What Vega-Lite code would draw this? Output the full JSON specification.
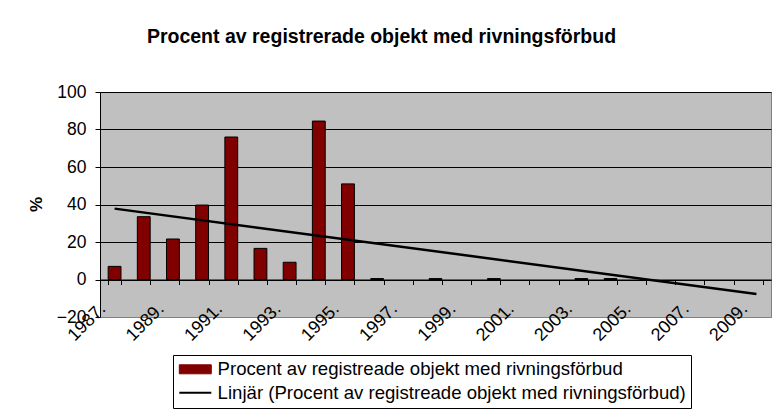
{
  "$schema": "https://vega.github.io/schema/vega-lite/v6.json",
  "autosize": "none",
  "width": 671,
  "height": 225,
  "padding": {"left": 100, "top": 92, "right": 2, "bottom": 98},
  "background": "white",
  "config": {
    "view": {"fill": "#C0C0C0", "stroke": "#808080", "strokeWidth": 1},
    "font": "Liberation Sans"
  },
  "title": {
    "text": "Procent av registrerade objekt med rivningsförbud",
    "font": "Liberation Sans",
    "fontSize": 19.5,
    "fontWeight": "bold",
    "color": "black",
    "anchor": "middle",
    "frame": "group",
    "baseline": "alphabetic",
    "dx": -54,
    "offset": 21
  },
  "datasets": {
    "bars": [
      {"year": "1987.", "value": 7, "series": "Procent av registreade objekt med rivningsförbud"},
      {"year": "1988.", "value": 33.5, "series": "Procent av registreade objekt med rivningsförbud"},
      {"year": "1989.", "value": 21.6, "series": "Procent av registreade objekt med rivningsförbud"},
      {"year": "1990.", "value": 39.7, "series": "Procent av registreade objekt med rivningsförbud"},
      {"year": "1991.", "value": 76, "series": "Procent av registreade objekt med rivningsförbud"},
      {"year": "1992.", "value": 16.6, "series": "Procent av registreade objekt med rivningsförbud"},
      {"year": "1993.", "value": 9.2, "series": "Procent av registreade objekt med rivningsförbud"},
      {"year": "1994.", "value": 84.5, "series": "Procent av registreade objekt med rivningsförbud"},
      {"year": "1995.", "value": 51, "series": "Procent av registreade objekt med rivningsförbud"},
      {"year": "1996.", "value": 0.5, "series": "Procent av registreade objekt med rivningsförbud"},
      {"year": "1998.", "value": 0.5, "series": "Procent av registreade objekt med rivningsförbud"},
      {"year": "2000.", "value": 0.5, "series": "Procent av registreade objekt med rivningsförbud"},
      {"year": "2003.", "value": 0.5, "series": "Procent av registreade objekt med rivningsförbud"},
      {"year": "2004.", "value": 0.5, "series": "Procent av registreade objekt med rivningsförbud"}
    ],
    "trend": [
      {"year": "1987.", "value": 37.8, "series": "Linjär (Procent av registreade objekt med rivningsförbud)"},
      {"year": "2009.", "value": -7.7, "series": "Linjär (Procent av registreade objekt med rivningsförbud)"}
    ]
  },
  "encoding": {
    "x": {
      "field": "year",
      "type": "ordinal",
      "scale": {
        "domain": ["1987.", "1988.", "1989.", "1990.", "1991.", "1992.", "1993.", "1994.", "1995.", "1996.", "1997.", "1998.", "1999.", "2000.", "2001.", "2002.", "2003.", "2004.", "2005.", "2006.", "2007.", "2008.", "2009."],
        "paddingInner": 0.56,
        "paddingOuter": 0.28
      },
      "axis": {
        "title": null,
        "offset": -37.5,
        "grid": false,
        "domainColor": "black",
        "domainWidth": 1,
        "tickColor": "black",
        "tickSize": 5,
        "tickBand": "extent",
        "labelAngle": -45,
        "labelAlign": "right",
        "labelBaseline": "middle",
        "labelPadding": 21.5,
        "labelOffset": -12,
        "labelFont": "Liberation Sans",
        "labelFontSize": 18,
        "labelColor": "black",
        "labelOverlap": false,
        "labelBound": false,
        "labelFlush": false,
        "labelExpr": "parseInt(datum.value) % 2 == 1 ? datum.value : ''"
      }
    },
    "y": {
      "field": "value",
      "type": "quantitative",
      "scale": {"domain": [-20, 100], "nice": false, "zero": false},
      "axis": {
        "title": "%",
        "titleFont": "Liberation Sans",
        "titleFontSize": 17,
        "titleFontWeight": "bold",
        "titleColor": "black",
        "titleAngle": -90,
        "titleAlign": "center",
        "titleBaseline": "middle",
        "titleX": -64,
        "titleY": 112,
        "values": [-20, 0, 20, 40, 60, 80, 100],
        "domainColor": "black",
        "tickColor": "black",
        "tickSize": 5,
        "labelPadding": 9,
        "labelFont": "Liberation Sans",
        "labelFontSize": 17.5,
        "labelColor": "black",
        "grid": true,
        "gridColor": {"condition": {"test": "datum.value == -20", "value": "#808080"}, "value": "black"},
        "gridWidth": 1,
        "gridOpacity": 1
      }
    },
    "color": {
      "field": "series",
      "type": "nominal",
      "scale": {
        "domain": ["Procent av registreade objekt med rivningsförbud", "Linjär (Procent av registreade objekt med rivningsförbud)"],
        "range": ["#800000", "#000000"]
      },
      "legend": {
        "orient": "none",
        "legendX": 73,
        "legendY": 263,
        "title": null,
        "direction": "vertical",
        "strokeColor": "black",
        "fillColor": "white",
        "padding": 5,
        "labelFont": "Liberation Sans",
        "labelFontSize": 18.6,
        "labelColor": "black",
        "labelLimit": 0,
        "symbolSize": 100,
        "symbolOffset": 8,
        "labelOffset": 13,
        "rowPadding": 4.5,
        "encode": {
          "symbols": {
            "update": {
              "shape": {"signal": "datum.value == 'Procent av registreade objekt med rivningsförbud' ? 'M-3.2,-0.9H3.2V0.9H-3.2Z' : 'M-3.2,0H3.2'"},
              "fill": {"signal": "datum.value == 'Procent av registreade objekt med rivningsförbud' ? '#800000' : 'transparent'"},
              "stroke": {"value": "black"},
              "strokeWidth": {"signal": "datum.value == 'Procent av registreade objekt med rivningsförbud' ? 1 : 2"},
              "opacity": {"value": 1},
              "fillOpacity": {"value": 1},
              "strokeOpacity": {"value": 1}
            }
          }
        }
      }
    }
  },
  "layer": [
    {
      "data": {"name": "bars"},
      "mark": {"type": "bar", "stroke": "black", "strokeWidth": 1, "fillOpacity": 1}
    },
    {
      "data": {"name": "trend"},
      "mark": {"type": "line", "strokeWidth": 2.5}
    }
  ]
}
